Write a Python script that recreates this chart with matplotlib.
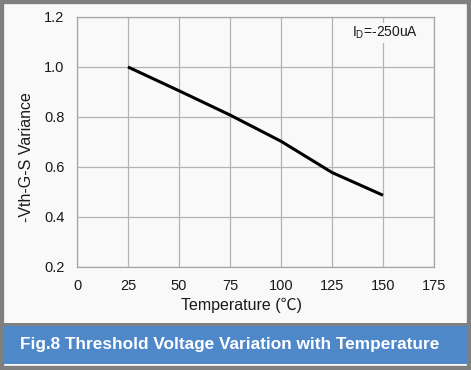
import matplotlib
matplotlib.use("Agg")
import matplotlib.pyplot as plt
from matplotlib.patches import Rectangle

temperature = [25, 50, 75, 100, 125, 150]
variance = [1.0, 0.905, 0.808, 0.703, 0.578, 0.487]
x_ticks = [0, 25, 50, 75, 100, 125, 150, 175]
y_ticks = [0.2, 0.4, 0.6, 0.8, 1.0, 1.2]

W, H = 471, 370
fig = plt.figure(figsize=(W/100, H/100), dpi=100)
fig.patch.set_facecolor('#f9f9f9')
plt.rcParams['font.family'] = ['Liberation Sans', 'Noto Sans CJK SC', 'DejaVu Sans']

def fx(px): return px / W
def fy(py): return 1 - py / H

# outer border and banner
fig.add_artist(Rectangle((0, 0), 1, 1, transform=fig.transFigure, fill=False,
                         edgecolor='#7f7f7f', linewidth=6))
fig.add_artist(Rectangle((fx(3), fy(364)), fx(465), (364-324)/H, transform=fig.transFigure,
                         facecolor='#4f88c9', edgecolor='none'))
fig.add_artist(Rectangle((fx(0), fy(326)), 1, 3/H, transform=fig.transFigure,
                         facecolor='#7f7f7f', edgecolor='none'))
fig.text(fx(230), fy(345), 'Fig.8 Threshold Voltage Variation with Temperature',
         color='white', fontsize=12.4, fontweight='bold', ha='center', va='center')

ax = fig.add_axes([fx(77), fy(267), fx(434-77), (267-17)/H])
ax.set_facecolor('#f9f9f9')
ax.plot(temperature, variance, color='black', linewidth=2.2, solid_capstyle='butt')
ax.set_xlim(0, 175)
ax.set_ylim(0.2, 1.2)
ax.set_xticks(x_ticks)
ax.set_yticks(y_ticks)
ax.set_yticklabels([f'{v:.1f}' for v in y_ticks])
ax.grid(True, color='#b3b3b3', linewidth=0.9)
ax.set_axisbelow(True)
for s in ax.spines.values():
    s.set_color('#a6a6a6')
    s.set_linewidth(0.9)
ax.tick_params(length=0, labelsize=10.5, colors='#1a1a1a')
ax.tick_params(axis='x', pad=9)
ax.tick_params(axis='y', pad=9)
ax.set_xlabel('Temperature (℃)', fontsize=11.5, color='#1a1a1a')
ax.set_ylabel('-Vth-G-S Variance', fontsize=11.5, color='#1a1a1a')
ax.xaxis.set_label_coords(0.462, -0.122)
ax.yaxis.set_label_coords(-0.12, 0.44)
ax.text(0.863, 0.936, r'I$_\mathregular{D}$=-250uA', transform=ax.transAxes,
        fontsize=10, ha='center', va='center', color='#1a1a1a',
        bbox=dict(facecolor='#f9f9f9', edgecolor='none', pad=1))

fig.savefig('out.png', dpi=100, facecolor=fig.get_facecolor())
